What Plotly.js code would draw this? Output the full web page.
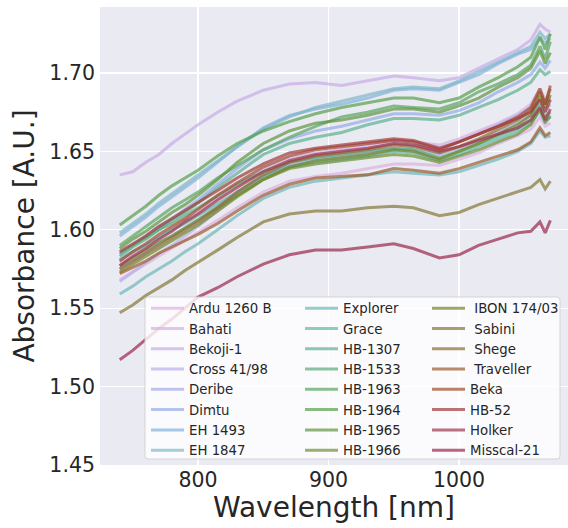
<!DOCTYPE html>
<html>
<head>
<meta charset="utf-8">
<script src="https://cdn.plot.ly/plotly-3.0.1.min.js"></script>
<style>html,body{margin:0;padding:0;background:#fff;}</style>
</head>
<body>
<div id="chart" style="width:568px;height:528px;"></div>
<script>
// Wavelength sample points [nm]
const wavelength = [740,750,760,770,780,790,800,815,830,850,870,890,910,930,950,965,985,1000,1015,1030,1045,1055,1062,1066,1070];

const varieties = ["Ardu 1260 B","Bahati","Bekoji-1","Cross 41/98","Deribe","Dimtu","EH 1493","EH 1847",
  "Explorer","Grace","HB-1307","HB-1533","HB-1963","HB-1964","HB-1965","HB-1966",
  " IBON 174/03"," Sabini"," Shege"," Traveller","Beka","HB-52","Holker","Misscal-21"];

const ardu     = [1.568,1.573,1.578,1.583,1.588,1.593,1.598,1.606,1.614,1.624,1.631,1.634,1.636,1.639,1.642,1.642,1.641,1.645,1.649,1.655,1.660,1.664,1.672,1.666,1.668];
const bahati   = [1.579,1.584,1.590,1.595,1.600,1.606,1.611,1.620,1.628,1.638,1.645,1.649,1.651,1.654,1.657,1.656,1.654,1.658,1.663,1.668,1.674,1.680,1.690,1.683,1.685];
const bekoji   = [1.635,1.637,1.643,1.648,1.655,1.661,1.667,1.675,1.682,1.689,1.693,1.694,1.692,1.695,1.698,1.697,1.695,1.697,1.703,1.709,1.715,1.721,1.731,1.728,1.726];
const cross    = [1.567,1.573,1.579,1.585,1.590,1.596,1.602,1.612,1.622,1.634,1.642,1.647,1.649,1.652,1.655,1.654,1.652,1.656,1.661,1.667,1.673,1.678,1.688,1.681,1.684];
const deribe   = [1.575,1.580,1.585,1.591,1.596,1.601,1.606,1.615,1.624,1.634,1.641,1.645,1.647,1.649,1.652,1.651,1.648,1.652,1.657,1.662,1.668,1.673,1.683,1.676,1.680];
const dimtu    = [1.584,1.590,1.596,1.602,1.607,1.613,1.619,1.629,1.639,1.651,1.658,1.663,1.666,1.670,1.674,1.674,1.673,1.676,1.681,1.688,1.694,1.699,1.707,1.703,1.708];
const eh1493   = [1.596,1.602,1.608,1.615,1.621,1.627,1.633,1.643,1.653,1.665,1.673,1.677,1.680,1.684,1.689,1.690,1.689,1.694,1.699,1.706,1.712,1.715,1.722,1.719,1.722];
const eh1847   = [1.598,1.604,1.610,1.617,1.623,1.629,1.635,1.644,1.653,1.664,1.672,1.678,1.682,1.686,1.690,1.691,1.690,1.695,1.701,1.707,1.713,1.717,1.726,1.722,1.725];
const explorer = [1.559,1.564,1.570,1.575,1.580,1.586,1.591,1.600,1.609,1.620,1.627,1.631,1.633,1.635,1.637,1.636,1.635,1.637,1.641,1.645,1.650,1.655,1.663,1.659,1.660];
const grace    = [1.581,1.586,1.590,1.595,1.600,1.604,1.609,1.617,1.624,1.634,1.640,1.643,1.645,1.647,1.650,1.649,1.644,1.648,1.653,1.658,1.663,1.668,1.676,1.668,1.673];
const hb1307   = [1.583,1.589,1.594,1.600,1.606,1.611,1.617,1.627,1.636,1.648,1.655,1.659,1.662,1.667,1.671,1.671,1.670,1.673,1.678,1.683,1.689,1.694,1.702,1.699,1.701];
const hb1533   = [1.585,1.590,1.595,1.600,1.604,1.609,1.614,1.621,1.629,1.637,1.643,1.646,1.648,1.650,1.652,1.651,1.646,1.650,1.655,1.660,1.665,1.670,1.680,1.672,1.675];
const hb1963   = [1.590,1.596,1.602,1.608,1.614,1.619,1.624,1.633,1.641,1.651,1.659,1.666,1.672,1.675,1.679,1.678,1.677,1.681,1.688,1.693,1.699,1.705,1.717,1.709,1.720];
const hb1964   = [1.603,1.609,1.615,1.622,1.628,1.633,1.638,1.647,1.655,1.663,1.669,1.674,1.678,1.681,1.684,1.684,1.681,1.684,1.691,1.697,1.704,1.710,1.723,1.715,1.725];
const hb1965   = [1.588,1.594,1.599,1.605,1.611,1.616,1.622,1.632,1.643,1.655,1.663,1.668,1.670,1.673,1.677,1.677,1.675,1.679,1.684,1.691,1.697,1.703,1.714,1.706,1.713];
const hb1966   = [1.577,1.582,1.587,1.592,1.596,1.601,1.606,1.614,1.622,1.632,1.639,1.642,1.644,1.646,1.648,1.647,1.643,1.647,1.651,1.656,1.661,1.667,1.677,1.669,1.672];
const ibon     = [1.573,1.578,1.583,1.588,1.593,1.598,1.603,1.612,1.621,1.632,1.640,1.644,1.646,1.648,1.651,1.650,1.645,1.650,1.655,1.661,1.667,1.673,1.685,1.678,1.686];
const sabini   = [1.547,1.552,1.558,1.563,1.568,1.574,1.579,1.587,1.595,1.605,1.610,1.612,1.612,1.614,1.615,1.614,1.609,1.611,1.616,1.620,1.624,1.627,1.632,1.626,1.631];
const shege    = [1.575,1.580,1.585,1.590,1.595,1.600,1.605,1.614,1.624,1.635,1.643,1.647,1.649,1.651,1.654,1.653,1.649,1.653,1.658,1.664,1.670,1.676,1.688,1.680,1.690];
const traveller= [1.572,1.576,1.580,1.585,1.589,1.593,1.597,1.604,1.612,1.622,1.629,1.633,1.634,1.635,1.639,1.638,1.636,1.639,1.643,1.647,1.651,1.656,1.665,1.660,1.662];
const beka     = [1.580,1.586,1.591,1.597,1.602,1.607,1.613,1.622,1.630,1.640,1.647,1.651,1.653,1.655,1.657,1.656,1.651,1.656,1.661,1.666,1.672,1.678,1.690,1.680,1.692];
const hb52     = [1.586,1.591,1.596,1.602,1.607,1.612,1.617,1.625,1.633,1.642,1.649,1.652,1.654,1.656,1.658,1.657,1.652,1.656,1.661,1.666,1.671,1.675,1.683,1.675,1.683];
const holker   = [1.577,1.583,1.588,1.594,1.599,1.605,1.610,1.619,1.627,1.637,1.644,1.648,1.650,1.652,1.655,1.654,1.650,1.653,1.657,1.661,1.665,1.670,1.678,1.670,1.677];
const misscal  = [1.517,1.523,1.530,1.537,1.543,1.550,1.557,1.563,1.570,1.578,1.584,1.587,1.587,1.589,1.591,1.588,1.582,1.584,1.590,1.594,1.598,1.599,1.605,1.598,1.606];

const series = [ardu,bahati,bekoji,cross,deribe,dimtu,eh1493,eh1847,explorer,grace,hb1307,hb1533,
  hb1963,hb1964,hb1965,hb1966,ibon,sabini,shege,traveller,beka,hb52,holker,misscal];

const colors = [
 [222,176,222],[214,174,228],[199,171,231],[182,176,234],[165,171,234],[148,171,231],[131,176,219],[125,182,199],
 [108,182,182],[96,182,165],[91,176,142],[91,171,119],[85,165,96],[85,159,74],[96,148,62],[108,142,51],
 [114,131,39],[131,119,51],[142,108,51],[154,91,45],[159,74,45],[159,56,56],[159,51,74],[154,39,74]];

const xTicks = [800,900,1000];
const yTicks = [1.45,1.50,1.55,1.60,1.65,1.70];
const yTickText = ["1.45","1.50","1.55","1.60","1.65","1.70"];

const legendIds = ["legend","legend2","legend3"];
const traces = series.map((ys,i)=>({
  type:'scatter', mode:'lines', x: wavelength, y: ys, name: varieties[i],
  line:{color:`rgba(${colors[i][0]},${colors[i][1]},${colors[i][2]},0.7)`, width:3},
  legend: legendIds[Math.floor(i/8)], hoverinfo:'skip'
}));

const W=568, H=528, mL=100, mR=0, mT=7, mB=63;
const pw=W-mL-mR, ph=H-mT-mB;
function px2x(p){return (p-mL)/pw;}
function py2y(p){return (H-mB-p)/ph;}
const bx0=px2x(145), bx1=px2x(560), by0=py2y(459), by1=py2y(297);
const rx=3/pw, ry=3/ph;
const boxPath = `M${bx0+rx},${by0} L${bx1-rx},${by0} Q${bx1},${by0} ${bx1},${by0+ry} L${bx1},${by1-ry} Q${bx1},${by1} ${bx1-rx},${by1} L${bx0+rx},${by1} Q${bx0},${by1} ${bx0},${by1-ry} L${bx0},${by0+ry} Q${bx0},${by0} ${bx0+rx},${by0} Z`;

const legFont = {family:'DejaVu Sans', size:13.3, color:'#262626'};
function legend(xp){
  return {x:px2x(xp), y:py2y(293), xanchor:'left', yanchor:'top', bgcolor:'rgba(0,0,0,0)',
    borderwidth:0, font:legFont, itemwidth:33, traceorder:'normal', itemclick:false, itemdoubleclick:false};
}

const layout = {
  width:W, height:H, margin:{l:mL,r:mR,t:mT,b:mB},
  paper_bgcolor:'#ffffff', plot_bgcolor:'#EAEAF2',
  font:{family:'DejaVu Sans', color:'#262626'},
  xaxis:{range:[724.9,1083.5], tickvals:xTicks, ticktext:xTicks.map(String), showgrid:true, gridcolor:'#ffffff', gridwidth:1.2,
    zeroline:false, showline:false, ticks:'', tickfont:{family:'DejaVu Sans', size:20.5, color:'#262626'},
    title:{text:'Wavelength [nm]', font:{family:'DejaVu Sans', size:28, color:'#262626'}, standoff:4}},
  yaxis:{range:[1.4499,1.7421], tickvals:yTicks, ticktext:yTickText, showgrid:true, gridcolor:'#ffffff', gridwidth:1.2,
    zeroline:false, showline:false, ticks:'', ticklabelstandoff:4, tickfont:{family:'DejaVu Sans', size:20.5, color:'#262626'},
    title:{text:'Absorbance [A.U.]', font:{family:'DejaVu Sans', size:28, color:'#262626'}, standoff:6}},
  shapes:[{type:'path', xref:'paper', yref:'paper', path:boxPath, fillcolor:'rgba(255,255,255,0.8)',
    line:{color:'rgba(204,204,204,0.8)', width:1}, layer:'above'}],
  legend: legend(146), legend2: legend(300), legend3: legend(427),
  showlegend:true
};

Plotly.newPlot('chart', traces, layout, {staticPlot:true, displayModeBar:false});
</script>
</body>
</html>
